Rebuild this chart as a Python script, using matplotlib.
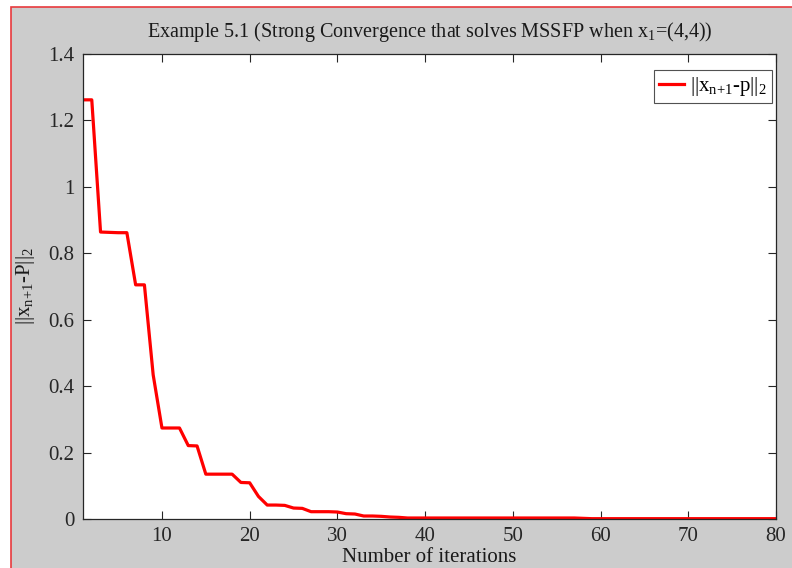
import matplotlib
matplotlib.use("Agg")
import matplotlib.pyplot as plt
from matplotlib.patches import Rectangle

plt.rcParams['font.family'] = ['Liberation Serif', 'DejaVu Serif']
plt.rcParams['mathtext.fontset'] = 'custom'
plt.rcParams['mathtext.rm'] = 'Liberation Serif'
plt.rcParams['mathtext.it'] = 'Liberation Serif'
plt.rcParams['mathtext.bf'] = 'Liberation Serif'

iterations = list(range(1, 81))
error_norm = [
    1.262, 1.262, 0.864, 0.863, 0.862, 0.862, 0.705, 0.705, 0.434, 0.274,
    0.274, 0.274, 0.221, 0.220, 0.135, 0.135, 0.135, 0.135, 0.110, 0.109,
    0.068, 0.042, 0.042, 0.041, 0.033, 0.032, 0.022, 0.022, 0.022, 0.021,
    0.016, 0.015, 0.009, 0.009, 0.008, 0.006, 0.005, 0.003, 0.003, 0.003,
    0.003, 0.003, 0.003, 0.003, 0.003, 0.003, 0.003, 0.003, 0.003, 0.003,
    0.003, 0.003, 0.003, 0.003, 0.003, 0.003, 0.003, 0.002, 0.001, 0.001,
    0.001, 0.001, 0.001, 0.001, 0.001, 0.001, 0.001, 0.001, 0.001, 0.001,
    0.001, 0.001, 0.001, 0.001, 0.001, 0.001, 0.001, 0.001, 0.001, 0.001,
]
x_ticks = [10, 20, 30, 40, 50, 60, 70, 80]
y_ticks = [0, 0.2, 0.4, 0.6, 0.8, 1, 1.2, 1.4]
y_tick_labels = ['0', '0.2', '0.4', '0.6', '0.8', '1', '1.2', '1.4']

W, H = 792, 568
fig = plt.figure(figsize=(W / 100, H / 100), dpi=100, facecolor='white')

# gray background with red border (left and top)
bg = Rectangle((10.5 / W, -0.01), 1.02, (H - 7.5) / H + 0.01, transform=fig.transFigure,
               facecolor='#cccccc', edgecolor='#e8393d', linewidth=1.2, zorder=-10)
fig.patches.append(bg)

ax_l, ax_r, ax_t, ax_b = 83, 776, 54, 519
ax = fig.add_axes([ax_l / W, (H - ax_b) / H, (ax_r - ax_l) / W, (ax_b - ax_t) / H])
ax.set_facecolor('white')
ax.plot(iterations, error_norm, color='#ff0000', linewidth=2.3,
        label=r'||x$_{n{+}1}$-p||$_2$')
ax.set_xlim(1, 80)
ax.set_ylim(0, 1.4)
ax.set_xticks(x_ticks)
ax.set_yticks(y_ticks)
ax.set_yticklabels(y_tick_labels)
ax.tick_params(direction='in', length=6, width=0.8, top=True, right=True,
               labelsize=15, colors='#262626', pad=6)
for s in ax.spines.values():
    s.set_color('#262626')
    s.set_linewidth(0.9)

ax.set_title('Example 5.1 (Strong Convergence that solves MSSFP when x$_1$=(4,4))',
             fontsize=14.5, pad=12, color='#1a1a1a')
ax.set_xlabel('Number of iterations', fontsize=15, labelpad=1.5, color='#1a1a1a')
ax.set_ylabel(r'||x$_{n{+}1}$-P||$_2$', fontsize=15, labelpad=8, color='#1a1a1a')

leg = ax.legend(loc='upper right', fontsize=15, frameon=True, fancybox=False,
                handlelength=1.2, handletextpad=0.3, borderpad=0.25,
                borderaxespad=0,
                bbox_to_anchor=((772 - ax_l) / (ax_r - ax_l), (ax_b - 70) / (ax_b - ax_t)))
leg.get_frame().set_edgecolor('#262626')
leg.get_frame().set_linewidth(0.8)

fig.savefig('out.png', dpi=100, facecolor=fig.get_facecolor())
